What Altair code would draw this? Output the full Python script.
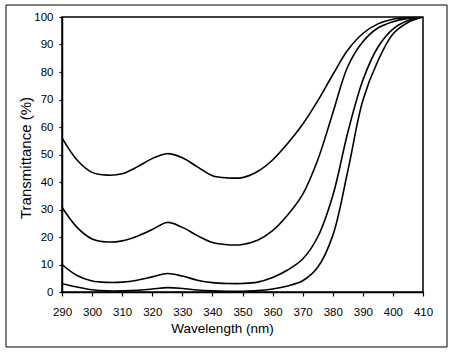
import altair as alt
import pandas as pd

wavelength = list(range(290, 411, 5))

curve_a = [56, 48, 43.5, 42.5, 43, 45.5, 48.5, 50.3, 48.8, 45.5, 42.3, 41.5, 41.6,
           43.8, 48, 54, 61, 69.5, 79, 88, 94, 97.5, 99.2, 99.8, 100]
curve_b = [30.8, 23.5, 19.3, 18.2, 18.6, 20.3, 22.7, 25.3, 23.5, 20.5, 18, 17.2, 17.3,
           18.8, 22.3, 28, 35.5, 48, 65, 82, 91, 96, 98.3, 99.5, 100]
curve_c = [10, 6, 4, 3.5, 3.6, 4.3, 5.5, 6.7, 5.8, 4.3, 3.4, 3.1, 3.1,
           3.6, 5.3, 8, 12, 20, 35, 58, 77, 89, 95.6, 98.7, 100]
curve_d = [3, 1.8, 0.8, 0.4, 0.4, 0.6, 1.1, 1.6, 1.3, 0.7, 0.4, 0.3, 0.3,
           0.5, 1.1, 2.2, 4.1, 9, 20.5, 44, 69.6, 84, 93.8, 98, 100]

x_ticks = list(range(290, 411, 10))
y_ticks = list(range(0, 101, 10))

series = {"A": curve_a, "B": curve_b, "C": curve_c, "D": curve_d}
rows = []
for name, vals in series.items():
    for w, v in zip(wavelength, vals):
        rows.append({"series": name, "wavelength": w, "T": v})
df = pd.DataFrame(rows)

FONT = "Liberation Sans"

lines = alt.Chart(df).mark_line(
    color="black", strokeWidth=1.6, interpolate="catmull-rom", clip=True
).encode(
    x=alt.X("wavelength:Q",
            scale=alt.Scale(domain=[290, 410], nice=False, zero=False),
            axis=alt.Axis(values=x_ticks, title="Wavelength (nm)", grid=False,
                          tickSize=4, labelPadding=10, labelFontSize=11.5,
                          labelFlush=False, labelOverlap=False, labelBound=False,
                          titleFontSize=13.5, titleFontWeight="normal",
                          titleX=160, titleY=40, titleBaseline="alphabetic",
                          titleAnchor="start", titleAlign="center",
                          domainColor="black", tickColor="black",
                          domainWidth=1.5, tickWidth=1.2,
                          labelColor="black", titleColor="black",
                          labelFont=FONT, titleFont=FONT)),
    y=alt.Y("T:Q",
            scale=alt.Scale(domain=[0, 100], nice=False),
            axis=alt.Axis(values=y_ticks, title="Transmittance (%)", grid=False,
                          tickSize=3, labelPadding=6, labelFontSize=11.5,
                          labelFlush=False, labelOverlap=False, labelBound=False,
                          titleFontSize=15, titleFontWeight="normal",
                          titleX=-32, titleY=140.5, titleAngle=270,
                          titleBaseline="alphabetic", titleAlign="center",
                          domainColor="black", tickColor="black",
                          domainWidth=1.5, tickWidth=1.2,
                          labelColor="black", titleColor="black",
                          labelFont=FONT, titleFont=FONT)),
    detail="series:N",
)

frame = alt.Chart(pd.DataFrame({"k": [0]})).mark_rect(
    fill=None, stroke="black", strokeWidth=1
).encode(
    x=alt.value(-56), x2=alt.value(385), y=alt.value(-12), y2=alt.value(330)
)

chart = alt.layer(frame, lines).properties(
    width=361, height=275,
    autosize=alt.AutoSizeParams(type="none"),
    padding={"left": 62, "top": 17, "right": 34, "bottom": 62},
    background="white",
).configure_view(
    stroke="black", strokeWidth=1.5
)

chart.save("out.html", embed_options={"renderer": "svg", "actions": False})
